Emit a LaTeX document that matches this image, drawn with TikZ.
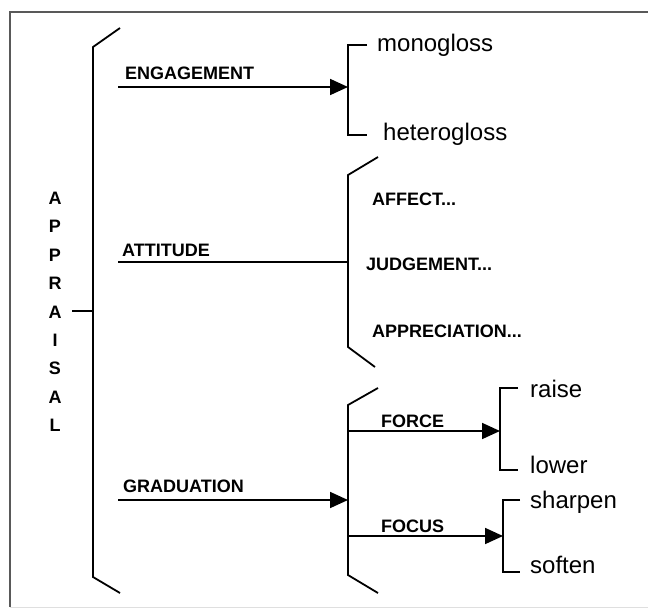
\documentclass[tikz,border=0pt]{standalone}
\usepackage{fontspec}
\setmainfont{Liberation Sans}
\usetikzlibrary{arrows.meta}

\begin{document}
\begin{tikzpicture}[x=1pt,y=-1pt]
\tikzset{branch/.style={line width=1.8pt}}
\tikzset{pointer/.style={branch,-{Triangle[length=18pt,width=16pt]}}}
\tikzset{caps/.style={anchor=base west,inner sep=0pt,font=\fontsize{18}{20}\selectfont\bfseries}}
\tikzset{gloss/.style={anchor=base west,inner sep=0pt,font=\fontsize{24}{26}\selectfont}}
\tikzset{letter/.style={anchor=base,inner sep=0pt,font=\fontsize{18}{20}\selectfont\bfseries}}

\useasboundingbox (0,0) rectangle (648,610);
\draw[line width=1.5pt,gray!70!black] (648,12) -- (10,12) -- (10,607);
\draw[line width=1pt,gray!25] (10,607) -- (648,607);

% APPRAISAL
\foreach \ch [count=\i from 0] in {A,P,P,R,A,I,S,A,L}
  \node[letter] (ap\i) at (55,{204.5+28.4*\i}) {\ch};
\coordinate (apTop) at (120,28);
\coordinate (apUp) at (93,47);
\coordinate (apLow) at (93,577);
\coordinate (apBot) at (120,593);
\coordinate (apMid) at (93,311);
\coordinate (apTick) at (72,311);
\draw[branch] (apTop) -- (apUp) -- (apLow) -- (apBot);
\draw[branch] (apTick) -- (apMid);

% ENGAGEMENT
\node[caps] (eng) at (125,80) {ENGAGEMENT};
\coordinate (engStart) at (118,87);
\coordinate (engEnd) at (348,87);
\draw[pointer] (engStart) -- (engEnd);
\coordinate (engTop) at (367,45);
\coordinate (engBot) at (367,135);
\draw[branch] (engTop) -- (348,45) -- (348,135) -- (engBot);
\node[gloss] (mono) at (377,52) {monogloss};
\node[gloss] (hetero) at (383,140) {heterogloss};

% ATTITUDE
\node[caps] (att) at (122,256) {ATTITUDE};
\coordinate (attStart) at (118,262);
\coordinate (attEnd) at (348,262);
\draw[branch] (attStart) -- (attEnd);
\coordinate (attTop) at (378,157);
\coordinate (attBot) at (375,367);
\draw[branch] (attTop) -- (348,175) -- (348,347) -- (attBot);
\node[caps] (affect) at (372,205) {AFFECT...};
\node[caps] (judge) at (366,270) {JUDGEMENT...};
\node[caps] (apprec) at (372,337) {APPRECIATION...};

% GRADUATION
\node[caps] (grad) at (123,492) {GRADUATION};
\coordinate (gradStart) at (118,500);
\coordinate (gradEnd) at (348,500);
\draw[pointer] (gradStart) -- (gradEnd);
\coordinate (gradTop) at (378,388);
\coordinate (gradBot) at (378,593);
\draw[branch] (gradTop) -- (348,405) -- (348,575) -- (gradBot);

\node[caps] (force) at (381,427) {FORCE};
\coordinate (forceStart) at (348,431);
\coordinate (forceEnd) at (500,431);
\draw[pointer] (forceStart) -- (forceEnd);
\coordinate (forceTop) at (518,388);
\coordinate (forceBot) at (518,470);
\draw[branch] (forceTop) -- (500,388) -- (500,470) -- (forceBot);
\node[gloss] (raise) at (530,397) {raise};
\node[gloss] (lower) at (530,473) {lower};

\node[caps] (focus) at (381,532) {FOCUS};
\coordinate (focusStart) at (348,536);
\coordinate (focusEnd) at (503,536);
\draw[pointer] (focusStart) -- (focusEnd);
\coordinate (focusTop) at (520,500);
\coordinate (focusBot) at (520,572);
\draw[branch] (focusTop) -- (503,500) -- (503,572) -- (focusBot);
\node[gloss] (sharpen) at (530,508) {sharpen};
\node[gloss] (soften) at (530,573) {soften};

\end{tikzpicture}
\end{document}
